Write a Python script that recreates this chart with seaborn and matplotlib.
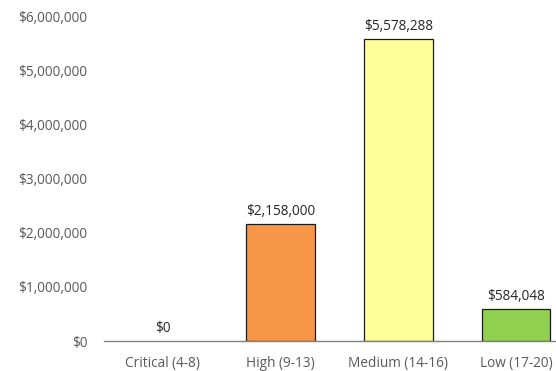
import matplotlib
matplotlib.use("Agg")
import matplotlib.pyplot as plt
import seaborn as sns
import pandas as pd

categories = ["Critical (4-8)", "High (9-13)", "Medium (14-16)", "Low (17-20)"]
values = [0, 2158000, 5578288, 584048]
colors = ["#4F81BD", "#F79646", "#FFFF99", "#92D050"]
tick_values = [0, 1000000, 2000000, 3000000, 4000000, 5000000, 6000000]

sns.set_theme(style="white")
plt.rcParams["font.family"] = ["Open Sans", "DejaVu Sans"]

df = pd.DataFrame({"category": categories, "value": values})

fig = plt.figure(figsize=(5.56, 3.71), dpi=100)
ax = fig.add_axes([104 / 556, 1 - 341 / 371, 471 / 556, (341 - 16) / 371])

sns.barplot(data=df, x="category", y="value", hue="category", palette=colors,
            saturation=1, legend=False, width=0.58, edgecolor="#1a1a1a",
            linewidth=0.9, ax=ax)

# bars with no height leave only the axis line
for patch, v in zip(ax.patches, values):
    if v == 0:
        patch.set_linewidth(0)
        patch.set_alpha(0)

ax.set_ylim(0, 6000000)
ax.set_yticks(tick_values)
ax.set_yticklabels([f"${v:,.0f}" for v in tick_values])
ax.set_xlim(-0.5, 3.5)
ax.set_xlabel("")
ax.set_ylabel("")

for s in ["top", "right", "left"]:
    ax.spines[s].set_visible(False)
ax.spines["bottom"].set_color("#808080")
ax.spines["bottom"].set_linewidth(1.0)

ax.tick_params(axis="y", length=0, pad=12, labelsize=9.8, labelcolor="#595959")
ax.tick_params(axis="x", length=0, pad=11, labelsize=9.8, labelcolor="#595959")

for i, v in enumerate(values):
    ax.text(i, v + 90000, f"${v:,.0f}", ha="center", va="bottom",
            fontsize=9.8, color="#262626")

fig.savefig("out.png", dpi=100)
